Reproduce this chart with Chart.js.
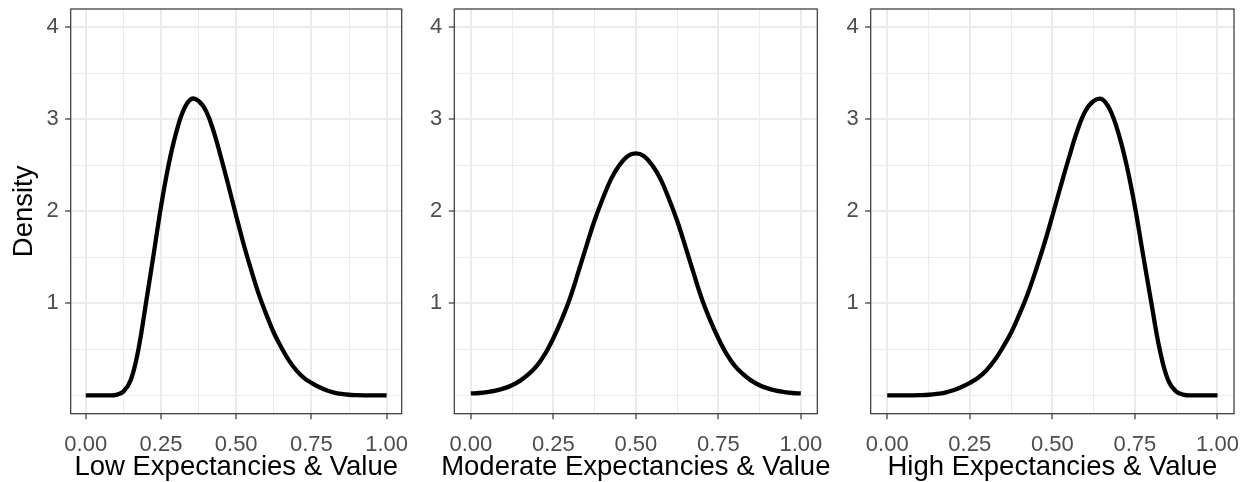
<!DOCTYPE html>
<html><head><meta charset="utf-8">
<script src="https://cdn.jsdelivr.net/npm/chart.js@4.4.1/dist/chart.umd.min.js"></script>
<style>
html,body{margin:0;padding:0;background:#fff;}
body{width:1250px;height:482px;position:relative;overflow:hidden;}
canvas{position:absolute;top:0;}
</style></head><body>
<canvas id="c1" width="416" height="482" style="left:0px"></canvas>
<canvas id="c2" width="417" height="482" style="left:416px"></canvas>
<canvas id="c3" width="417" height="482" style="left:833px"></canvas>
<script>
// ---- data ----
const xValues = [0,0.025,0.05,0.075,0.1,0.125,0.15,0.175,0.2,0.225,0.25,0.275,0.3,0.325,0.35,0.375,0.4,0.425,0.45,0.475,0.5,
                 0.525,0.55,0.575,0.6,0.625,0.65,0.675,0.7,0.725,0.75,0.775,0.8,0.825,0.85,0.875,0.9,0.925,0.95,0.975,1];
const lowDensity = [0,0,0,0,0.005,0.04,0.17,0.5,1.0,1.52,2.05,2.5,2.85,3.1,3.22,3.2,3.09,2.87,2.58,2.27,1.95,
                    1.64,1.36,1.1,0.88,0.68,0.52,0.38,0.27,0.19,0.135,0.09,0.055,0.03,0.015,0.006,0.002,0,0,0,0];
const moderateDensity = [0.02,0.025,0.035,0.05,0.075,0.11,0.16,0.23,0.32,0.45,0.62,0.82,1.05,1.33,1.62,1.9,2.14,2.35,2.5,2.6,2.63,
                         2.6,2.5,2.35,2.14,1.9,1.62,1.33,1.05,0.82,0.62,0.45,0.32,0.23,0.16,0.11,0.075,0.05,0.035,0.025,0.02];
const highDensity = [0,0,0,0,0.002,0.006,0.015,0.03,0.055,0.09,0.135,0.19,0.27,0.38,0.52,0.68,0.88,1.1,1.36,1.64,1.95,
                     2.27,2.58,2.87,3.09,3.2,3.22,3.1,2.85,2.5,2.05,1.52,1.0,0.5,0.17,0.04,0.005,0,0,0,0];
const panelTitles = ['Low Expectancies & Value','Moderate Expectancies & Value','High Expectancies & Value'];
const yAxisTitle = 'Density';
const xTickValues = [0,0.125,0.25,0.375,0.5,0.625,0.75,0.875,1];
const xTickLabels = ['0.00','','0.25','','0.50','','0.75','','1.00'];
const yTickValues = [0,0.5,1,1.5,2,2.5,3,3.5,4];
const yTickLabels = ['','','1','','2','','3','','4'];

const FONT = "'Liberation Sans', Arial, Helvetica, sans-serif";
const GRID = '#EBEBEB';
const TICKC = '#333333';

const panelBorder = {
  id: 'panelBorder',
  afterDraw(chart) {
    const {ctx, chartArea: a} = chart;
    ctx.save();
    ctx.strokeStyle = '#333333';
    ctx.lineWidth = 1.2;
    ctx.strokeRect(a.left, a.top, a.right - a.left, a.bottom - a.top);
    ctx.restore();
  }
};

// x-axis title, centred under the panel without Chart.js' maxWidth squeeze
const panelTitle = {
  id: 'panelTitle',
  afterDraw(chart, args, opts) {
    const {ctx, chartArea: a} = chart;
    ctx.save();
    ctx.fillStyle = '#000000';
    ctx.font = '27.5px ' + FONT;
    ctx.textAlign = 'center';
    ctx.textBaseline = 'middle';
    ctx.fillText(opts.text, (a.left + a.right) / 2, opts.y);
    ctx.restore();
  }
};

function makePanel(id, series, title, showYTitle, yWidth, padRight) {
  const pts = xValues.map((x, i) => ({x: x, y: series[i]}));
  new Chart(document.getElementById(id), {
    type: 'line',
    data: { datasets: [{ data: pts, borderColor: '#000000', borderWidth: 4.3, pointRadius: 0, pointHoverRadius: 0,
                         tension: 0.4, fill: false }] },
    options: {
      responsive: false, animation: false, devicePixelRatio: 1,
      layout: { autoPadding: false, padding: { left: 0, right: padRight, top: 9, bottom: 0 } },
      plugins: { legend: { display: false }, tooltip: { enabled: false },
                 panelTitle: { text: title, y: 467.5 } },
      scales: {
        x: {
          type: 'linear', min: -0.05, max: 1.05,
          afterBuildTicks: s => { s.ticks = xTickValues.map(v => ({value: v})); },
          afterFit: s => { s.height = 68.3; s.paddingLeft = 0; s.paddingRight = 0; },
          border: { display: false },
          grid: {
            color: GRID,
            lineWidth: c => (xTickLabels[c.index] ? 2 : 1),
            drawTicks: true, tickLength: 5.5, tickWidth: 1.2,
            tickColor: c => (xTickLabels[c.index] ? TICKC : 'rgba(0,0,0,0)')
          },
          ticks: {
            autoSkip: false, maxRotation: 0, minRotation: 0, padding: 13,
            color: '#4D4D4D', font: { family: FONT, size: 22 },
            callback: (v, i) => xTickLabels[i]
          },
          title: { display: false }
        },
        y: {
          type: 'linear', min: -0.2, max: 4.2,
          afterBuildTicks: s => { s.ticks = yTickValues.map(v => ({value: v})); },
          afterFit: s => { s.width = yWidth; s.paddingTop = 0; s.paddingBottom = 0; },
          border: { display: false },
          grid: {
            color: GRID,
            lineWidth: c => (yTickLabels[c.index] ? 2 : 1),
            drawTicks: true, tickLength: 5.5, tickWidth: 1.2,
            tickColor: c => (yTickLabels[c.index] ? TICKC : 'rgba(0,0,0,0)')
          },
          ticks: {
            autoSkip: false, padding: 6.5,
            color: '#4D4D4D', font: { family: FONT, size: 22 },
            callback: (v, i) => yTickLabels[i]
          },
          title: { display: showYTitle, text: yAxisTitle, color: '#000000', font: { family: FONT, size: 27.5, lineHeight: 1 },
                   padding: { top: 10.5, bottom: 0 } }
        }
      }
    },
    plugins: [panelBorder, panelTitle]
  });
}

makePanel('c1', lowDensity, panelTitles[0], true, 70.7, 14.3);
makePanel('c2', moderateDensity, panelTitles[1], false, 38.3, 15.7);
makePanel('c3', highDensity, panelTitles[2], false, 37.7, 16);
</script>
</body></html>
